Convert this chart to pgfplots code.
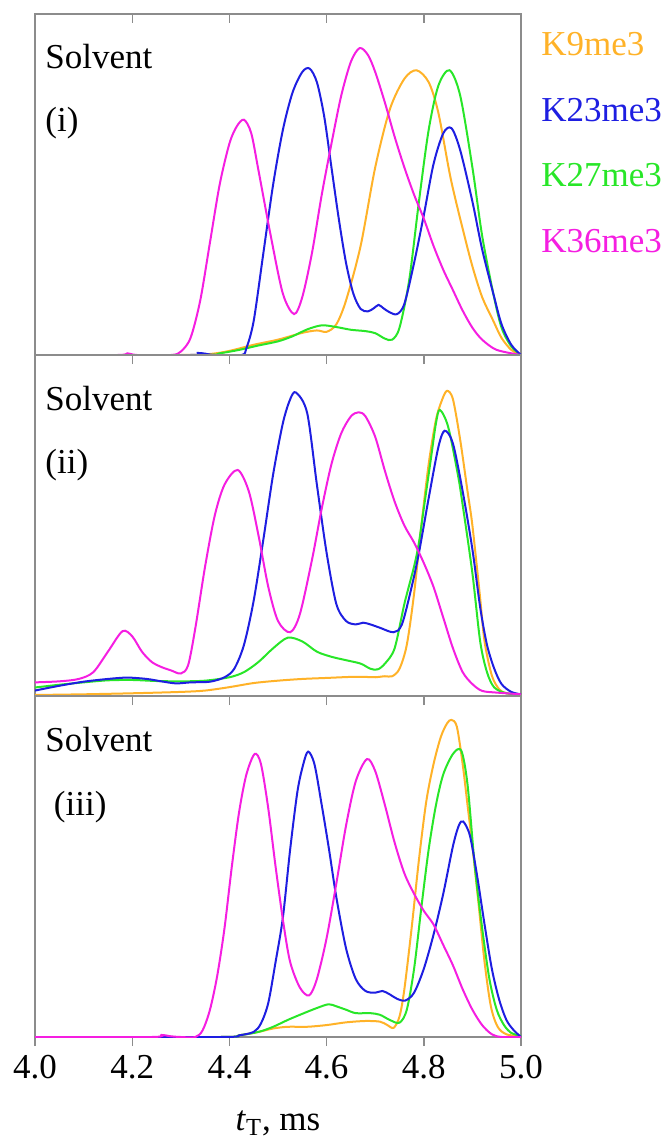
\documentclass[border=0pt]{standalone}
\usepackage{fontspec}
\setmainfont{Liberation Serif}
\usepackage{pgfplots}
\pgfplotsset{compat=1.18}

\definecolor{cOr}{RGB}{255,178,40}
\definecolor{cBl}{RGB}{30,30,225}
\definecolor{cGr}{RGB}{40,230,40}
\definecolor{cMg}{RGB}{245,30,225}
\definecolor{axgray}{RGB}{140,140,140}

\pgfplotsset{panel/.style={
  scale only axis, width=243pt, height=170.5pt, anchor=north west,
  xmin=4, xmax=5, ymin=0, ymax=1,
  ytick=\empty, xtick={4.2,4.4,4.6,4.8}, xticklabels={},
  xtick pos=bottom, tick align=outside, major tick length=4.5pt,
  axis line style={axgray, line width=0.7pt},
  every tick/.style={axgray, line width=0.7pt},
  every axis plot/.append style={line width=1pt, smooth, tension=0.5}}}

\newcommand\bigfont{\fontsize{17.5pt}{21pt}\selectfont}

\begin{document}
\begin{tikzpicture}
\useasboundingbox (0,0) rectangle (336pt,-569.5pt);

% (i)
\begin{axis}[panel, at={(17.5pt,-7pt)}]
\addplot[cOr] coordinates {(4.00,0)(4.30,0)(4.36,0.003)(4.40,0.012)(4.45,0.03)(4.50,0.045)(4.55,0.065)(4.58,0.072)(4.60,0.068)(4.62,0.09)(4.64,0.16)(4.67,0.32)(4.70,0.55)(4.73,0.72)(4.76,0.81)(4.785,0.835)(4.81,0.8)(4.83,0.71)(4.855,0.52)(4.88,0.37)(4.90,0.26)(4.92,0.17)(4.943,0.10)(4.96,0.05)(4.98,0.015)(5.00,0)};
\addplot[cGr] coordinates {(4.0,0)(4.34,0)(4.38,0.005)(4.42,0.015)(4.46,0.028)(4.50,0.04)(4.53,0.055)(4.56,0.075)(4.59,0.087)(4.62,0.082)(4.65,0.074)(4.68,0.07)(4.70,0.064)(4.72,0.048)(4.735,0.045)(4.75,0.08)(4.77,0.22)(4.79,0.45)(4.81,0.66)(4.83,0.79)(4.853,0.835)(4.875,0.76)(4.90,0.55)(4.92,0.35)(4.943,0.18)(4.96,0.08)(4.98,0.025)(5.0,0)};
\addplot[cBl] coordinates {(4.0,0)(4.32,0)(4.335,0.006)(4.35,0.004)(4.37,0)(4.425,0)(4.435,0.02)(4.45,0.1)(4.47,0.3)(4.49,0.5)(4.51,0.66)(4.53,0.77)(4.55,0.83)(4.565,0.84)(4.58,0.8)(4.595,0.7)(4.61,0.55)(4.625,0.4)(4.64,0.27)(4.655,0.18)(4.67,0.135)(4.685,0.128)(4.697,0.137)(4.707,0.147)(4.717,0.137)(4.73,0.125)(4.745,0.12)(4.76,0.15)(4.78,0.27)(4.80,0.41)(4.82,0.56)(4.84,0.65)(4.857,0.665)(4.875,0.6)(4.90,0.45)(4.92,0.31)(4.943,0.18)(4.96,0.09)(4.98,0.03)(5.0,0)};
\addplot[cMg] coordinates {(4.0,0)(4.17,0)(4.19,0.005)(4.21,0)(4.28,0)(4.30,0.01)(4.32,0.05)(4.34,0.16)(4.36,0.33)(4.38,0.5)(4.40,0.62)(4.415,0.67)(4.43,0.69)(4.445,0.65)(4.46,0.54)(4.485,0.35)(4.51,0.18)(4.533,0.12)(4.55,0.17)(4.57,0.3)(4.59,0.47)(4.61,0.62)(4.63,0.76)(4.65,0.86)(4.668,0.9)(4.685,0.88)(4.70,0.83)(4.72,0.74)(4.74,0.64)(4.76,0.55)(4.78,0.47)(4.80,0.40)(4.82,0.32)(4.84,0.25)(4.86,0.19)(4.88,0.13)(4.90,0.08)(4.92,0.045)(4.95,0.015)(5.0,0)};
\draw[axgray, line width=0.7pt] (axis cs:4.2,1) -- ++(0pt,-4.5pt);
\draw[axgray, line width=0.7pt] (axis cs:4.4,1) -- ++(0pt,-4.5pt);
\draw[axgray, line width=0.7pt] (axis cs:4.6,1) -- ++(0pt,-4.5pt);
\draw[axgray, line width=0.7pt] (axis cs:4.8,1) -- ++(0pt,-4.5pt);
\end{axis}

% (ii)
\begin{axis}[panel, at={(17.5pt,-177.5pt)}]
\addplot[cOr] coordinates {(4.0,0.003)(4.1,0.005)(4.2,0.008)(4.3,0.012)(4.35,0.016)(4.40,0.026)(4.45,0.038)(4.50,0.045)(4.55,0.05)(4.60,0.053)(4.65,0.056)(4.68,0.056)(4.70,0.055)(4.72,0.058)(4.735,0.058)(4.75,0.08)(4.765,0.15)(4.78,0.3)(4.795,0.5)(4.81,0.68)(4.825,0.81)(4.838,0.87)(4.848,0.895)(4.86,0.87)(4.875,0.75)(4.89,0.6)(4.90,0.5)(4.915,0.3)(4.925,0.16)(4.94,0.06)(4.955,0.02)(4.97,0.008)(5.0,0.005)};
\addplot[cGr] coordinates {(4.0,0.025)(4.05,0.033)(4.10,0.04)(4.15,0.046)(4.20,0.047)(4.25,0.044)(4.30,0.043)(4.35,0.045)(4.40,0.055)(4.43,0.07)(4.46,0.1)(4.49,0.14)(4.52,0.171)(4.55,0.16)(4.58,0.13)(4.61,0.115)(4.64,0.105)(4.67,0.095)(4.69,0.08)(4.705,0.078)(4.72,0.095)(4.74,0.14)(4.76,0.27)(4.78,0.38)(4.79,0.45)(4.80,0.55)(4.815,0.7)(4.825,0.8)(4.833,0.839)(4.85,0.79)(4.87,0.65)(4.88,0.56)(4.90,0.36)(4.916,0.16)(4.93,0.07)(4.945,0.025)(4.97,0.008)(5.0,0.005)};
\addplot[cBl] coordinates {(4.0,0.016)(4.05,0.03)(4.10,0.042)(4.15,0.05)(4.19,0.054)(4.23,0.05)(4.26,0.043)(4.29,0.037)(4.32,0.04)(4.36,0.042)(4.39,0.055)(4.41,0.08)(4.43,0.15)(4.45,0.28)(4.47,0.46)(4.49,0.65)(4.51,0.80)(4.525,0.87)(4.537,0.89)(4.56,0.83)(4.58,0.62)(4.60,0.42)(4.62,0.27)(4.64,0.22)(4.66,0.21)(4.675,0.215)(4.69,0.21)(4.71,0.2)(4.738,0.187)(4.755,0.21)(4.775,0.32)(4.79,0.42)(4.81,0.58)(4.83,0.73)(4.843,0.778)(4.86,0.74)(4.88,0.6)(4.90,0.43)(4.916,0.26)(4.93,0.15)(4.945,0.08)(4.96,0.035)(4.98,0.012)(5.0,0.005)};
\addplot[cMg] coordinates {(4.0,0.04)(4.05,0.043)(4.09,0.05)(4.12,0.07)(4.15,0.13)(4.18,0.19)(4.20,0.175)(4.22,0.13)(4.24,0.1)(4.26,0.085)(4.28,0.075)(4.30,0.066)(4.315,0.09)(4.33,0.2)(4.35,0.38)(4.37,0.53)(4.39,0.62)(4.417,0.663)(4.44,0.6)(4.46,0.47)(4.48,0.32)(4.50,0.22)(4.525,0.187)(4.545,0.24)(4.57,0.4)(4.59,0.55)(4.61,0.68)(4.63,0.77)(4.65,0.82)(4.666,0.832)(4.68,0.82)(4.70,0.76)(4.72,0.66)(4.74,0.57)(4.76,0.5)(4.78,0.45)(4.80,0.39)(4.82,0.32)(4.84,0.23)(4.86,0.14)(4.88,0.07)(4.90,0.035)(4.92,0.015)(4.95,0.01)(5.0,0.005)};
\end{axis}

% (iii)
\begin{axis}[panel, at={(17.5pt,-348pt)},
  xtick={4,4.2,4.4,4.6,4.8,5}, xticklabels={4.0,4.2,4.4,4.6,4.8,5.0},
  xticklabel style={font=\bigfont, anchor=base, inner sep=0pt, yshift=-16pt}]
\addplot[cOr] coordinates {(4.0,0)(4.38,0)(4.42,0.005)(4.46,0.015)(4.49,0.025)(4.52,0.03)(4.56,0.03)(4.60,0.035)(4.64,0.043)(4.68,0.047)(4.71,0.045)(4.725,0.035)(4.738,0.027)(4.75,0.06)(4.76,0.14)(4.775,0.32)(4.79,0.52)(4.805,0.69)(4.82,0.8)(4.835,0.88)(4.848,0.92)(4.857,0.93)(4.868,0.91)(4.88,0.8)(4.89,0.68)(4.90,0.56)(4.912,0.4)(4.925,0.22)(4.938,0.09)(4.952,0.03)(4.97,0.008)(5.0,0.002)};
\addplot[cGr] coordinates {(4.0,0)(4.38,0)(4.42,0.005)(4.46,0.015)(4.49,0.03)(4.52,0.05)(4.55,0.068)(4.58,0.085)(4.604,0.096)(4.62,0.09)(4.64,0.08)(4.66,0.07)(4.69,0.07)(4.71,0.065)(4.73,0.05)(4.75,0.042)(4.765,0.08)(4.78,0.2)(4.795,0.38)(4.81,0.55)(4.825,0.68)(4.84,0.77)(4.86,0.83)(4.877,0.84)(4.89,0.74)(4.905,0.5)(4.92,0.32)(4.935,0.17)(4.95,0.08)(4.965,0.035)(4.98,0.012)(5.0,0.003)};
\addplot[cBl] coordinates {(4.0,0)(4.38,0)(4.42,0.005)(4.45,0.015)(4.465,0.04)(4.48,0.1)(4.495,0.22)(4.51,0.35)(4.525,0.55)(4.54,0.72)(4.552,0.8)(4.562,0.837)(4.575,0.8)(4.59,0.68)(4.605,0.55)(4.62,0.41)(4.64,0.26)(4.66,0.17)(4.68,0.135)(4.70,0.13)(4.715,0.135)(4.73,0.125)(4.745,0.112)(4.762,0.107)(4.78,0.13)(4.80,0.2)(4.82,0.3)(4.84,0.42)(4.86,0.56)(4.872,0.62)(4.881,0.632)(4.895,0.59)(4.91,0.47)(4.925,0.33)(4.94,0.2)(4.955,0.11)(4.97,0.05)(4.985,0.02)(5.0,0)};
\addplot[cMg] coordinates {(4.0,0)(4.24,0)(4.26,0.006)(4.28,0.002)(4.30,0)(4.33,0)(4.345,0.02)(4.36,0.08)(4.375,0.18)(4.39,0.32)(4.405,0.5)(4.42,0.66)(4.435,0.77)(4.452,0.83)(4.465,0.8)(4.48,0.67)(4.495,0.5)(4.511,0.335)(4.525,0.22)(4.545,0.145)(4.564,0.122)(4.58,0.17)(4.60,0.29)(4.62,0.45)(4.64,0.62)(4.66,0.75)(4.683,0.815)(4.70,0.78)(4.72,0.68)(4.74,0.57)(4.76,0.48)(4.78,0.42)(4.80,0.37)(4.82,0.33)(4.84,0.27)(4.86,0.21)(4.88,0.14)(4.90,0.08)(4.92,0.035)(4.94,0.008)(4.96,0)(5.0,0)};
\end{axis}

\begin{scope}[every node/.style={font=\bigfont, inner sep=0pt, anchor=base west}]
\node[text=cOr] at (270.5pt,-28pt) {K9me3};
\node[text=cBl] at (270.5pt,-61pt) {K23me3};
\node[text=cGr] at (270.5pt,-93.5pt) {K27me3};
\node[text=cMg] at (270.5pt,-126pt) {K36me3};
\node at (22.5pt,-34.5pt) {Solvent};
\node at (22.5pt,-66pt) {(i)};
\node at (22.5pt,-205pt) {Solvent};
\node at (22.5pt,-236.5pt) {(ii)};
\node at (22.5pt,-375.5pt) {Solvent};
\node at (26.8pt,-407.5pt) {(iii)};
\node[anchor=base] at (139pt,-565pt) {\textit{t}\textsubscript{T}, ms};
\end{scope}
\end{tikzpicture}
\end{document}
